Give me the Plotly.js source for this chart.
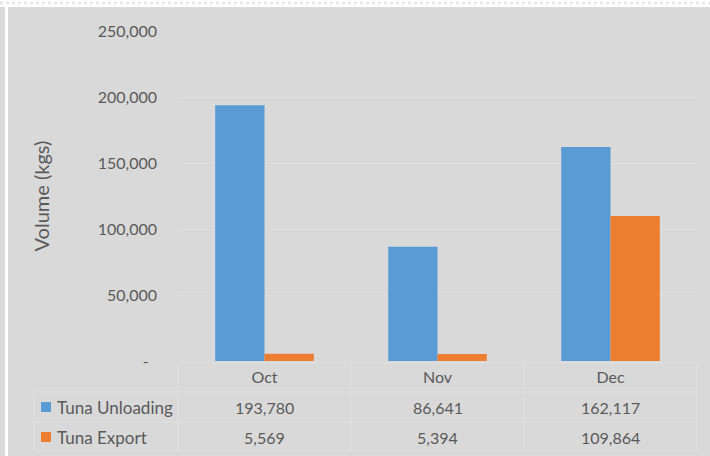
<!DOCTYPE html>
<html>
<head>
<meta charset="utf-8">
<script src="https://cdn.plot.ly/plotly-3.0.1.min.js"></script>
<style>html,body{margin:0;padding:0;background:#d9d9d9;}#chart{width:710px;height:456px;}</style>
</head>
<body>
<div id="chart"></div>
<script>
const categories = ["Oct", "Nov", "Dec"];
const seriesNames = ["Tuna Unloading", "Tuna Export"];
const unloading = [193780, 86641, 162117];
const exportVals = [5569, 5394, 109864];
const tickVals = [0, 50000, 100000, 150000, 200000, 250000];
const tickText = ["-\u00a0\u00a0", "50,000", "100,000", "150,000", "200,000", "250,000"];

const W = 710, H = 456;
const L = 178, R = 13, T = 31, B = 95;
const pw = W - L - R, ph = H - T - B;
const px = x => (x - L) / pw;
const py = y => (H - B - y) / ph;

const colors = ["#5b9bd5", "#ed7d31"];
const txt = "#595959";
const font = "Lato, 'Open Sans', sans-serif";
const lineC = "#e0e0e0";
const fmt = v => v.toLocaleString("en-US");

const traces = [
  {type: "bar", name: seriesNames[0], x: categories, y: unloading, marker: {color: colors[0]}, hoverinfo: "skip"},
  {type: "bar", name: seriesNames[1], x: categories, y: exportVals, marker: {color: colors[1]}, hoverinfo: "skip"}
];

const shapes = [];
const annotations = [];
// top hatched band
shapes.push({type: "rect", xref: "paper", yref: "paper", x0: px(0), x1: px(W), y0: py(7), y1: py(-2), fillcolor: "#ffffff", line: {width: 0}, layer: "below"});
shapes.push({type: "line", xref: "paper", yref: "paper", x0: px(0), x1: px(W), y0: py(3), y1: py(3), line: {color: "#e8e8e8", width: 3, dash: "dot"}, layer: "below"});
// left white strip
shapes.push({type: "rect", xref: "paper", yref: "paper", x0: px(5), x1: px(8), y0: py(H + 2), y1: py(7), fillcolor: "#ffffff", line: {width: 0}, layer: "below"});

// data table lines
const hl = (y, x0, x1) => shapes.push({type: "line", xref: "paper", yref: "paper", x0: px(x0), x1: px(x1), y0: py(y), y1: py(y), line: {color: lineC, width: 1}});
hl(363, 178, 697);
hl(392, 34, 697);
hl(422, 34, 697);
hl(451, 34, 697);
const vlp = (x, y0, y1) => shapes.push({type: "line", xref: "paper", yref: "paper", x0: px(x), x1: px(x), y0: py(y0), y1: py(y1), line: {color: lineC, width: 1}});
vlp(34, 392, 451);
vlp(178, 363, 451);
vlp(697, 363, 451);
[0.5, 1.5].forEach(c => shapes.push({type: "line", xref: "x", yref: "paper", x0: c, x1: c, y0: py(363), y1: py(451), line: {color: lineC, width: 1}}));

// legend keys and labels
const rowY = [407, 437];
seriesNames.forEach((n, i) => {
  shapes.push({type: "rect", xref: "paper", yref: "paper", x0: px(41), x1: px(51), y0: py(rowY[i] - 5), y1: py(rowY[i] + 5), fillcolor: colors[i], line: {width: 0}});
  annotations.push({xref: "paper", yref: "paper", x: px(55), y: py(rowY[i]), xanchor: "left", yanchor: "middle", text: n, showarrow: false, font: {family: font, size: 17, color: txt}});
});
// values
[unloading, exportVals].forEach((arr, i) => {
  arr.forEach((v, j) => {
    annotations.push({xref: "x", yref: "paper", x: categories[j], y: py(rowY[i]), xanchor: "center", yanchor: "middle", text: fmt(v), showarrow: false, font: {family: font, size: 16, color: txt}});
  });
});

const layout = {
  width: W, height: H,
  margin: {l: L, r: R, t: T, b: B, pad: 0},
  paper_bgcolor: "#d9d9d9",
  plot_bgcolor: "#d9d9d9",
  showlegend: false,
  barmode: "group",
  bargap: 0.43,
  bargroupgap: 0,
  font: {family: font, size: 16, color: txt},
  xaxis: {
    type: "category",
    range: [-0.5, 2.5],
    showgrid: false, zeroline: false, showline: false,
    ticks: "", ticklabelstandoff: 5,
    tickfont: {family: font, size: 16, color: txt},
    fixedrange: true
  },
  yaxis: {
    range: [0, 250000],
    tickvals: tickVals, ticktext: tickText,
    showgrid: true, gridcolor: "#dedede", gridwidth: 1,
    zeroline: false, showline: false,
    ticks: "", ticklabelstandoff: 20,
    tickfont: {family: font, size: 16, color: txt},
    title: {text: "Volume (kgs)", font: {family: font, size: 20, color: txt}, standoff: 42},
    fixedrange: true
  },
  shapes: shapes,
  annotations: annotations
};

Plotly.newPlot("chart", traces, layout, {displayModeBar: false, staticPlot: true});
</script>
</body>
</html>
